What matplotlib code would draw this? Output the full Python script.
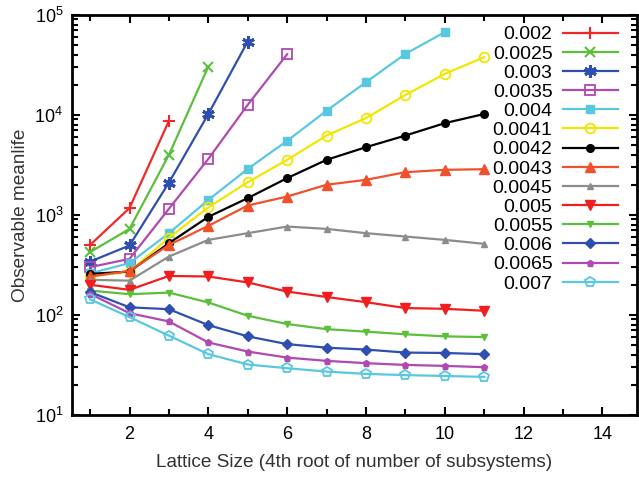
import matplotlib
matplotlib.use("Agg")
import matplotlib.pyplot as plt
from matplotlib.ticker import LogLocator, MultipleLocator, NullFormatter

plt.rcParams['font.family'] = ['Liberation Sans', 'DejaVu Sans']
plt.rcParams['mathtext.default'] = 'regular'

labels = ["0.002", "0.0025", "0.003", "0.0035", "0.004", "0.0041", "0.0042",
          "0.0043", "0.0045", "0.005", "0.0055", "0.006", "0.0065", "0.007"]

v_0002 = [500, 1170, 8700]
v_00025 = [424, 724, 3980, 30400]
v_0003 = [341, 494, 2100, 10200, 54100]
v_00035 = [300, 363, 1150, 3630, 12600, 40400]
v_0004 = [260, 329, 656, 1410, 2880, 5500, 11000, 21200, 40700, 67100]
v_00041 = [242, 271, 590, 1190, 2120, 3550, 6210, 9270, 15800, 25700, 37700]
v_00042 = [257, 271, 521, 955, 1470, 2330, 3550, 4750, 6210, 8260, 10200]
v_00043 = [242, 275, 500, 776, 1240, 1525, 2000, 2240, 2670, 2820, 2860]
v_00045 = [224, 220, 383, 562, 656, 764, 724, 656, 607, 562, 513]
v_0005 = [200, 178, 245, 242, 211, 171, 151, 134, 117, 115, 110]
v_00055 = [175, 161, 167, 133, 98, 81, 72, 68, 64, 61, 60]
v_0006 = [169, 119, 114, 79, 61, 51, 47, 45, 42, 41.6, 40.5]
v_00065 = [162, 104, 86, 53, 43, 37.4, 34.7, 32.9, 31.6, 30.9, 30]
v_0007 = [143, 95, 62, 40.5, 31.9, 29.3, 27.1, 25.7, 25, 24.5, 24]

series = [v_0002, v_00025, v_0003, v_00035, v_0004, v_00041, v_00042,
          v_00043, v_00045, v_0005, v_00055, v_0006, v_00065, v_0007]

styles = [
    dict(color='#f02828', marker='+', ms=9, mew=1.5),
    dict(color='#5cbf3c', marker='x', ms=7, mew=1.5),
    dict(color='#2f4fb0', marker=(6, 2, 0), ms=9, mew=2.2),
    dict(color='#b04ab0', marker='s', ms=7, mfc='none', mew=1.3),
    dict(color='#58c8e0', marker='s', ms=6),
    dict(color='#f2e600', marker='o', ms=7, mfc='none', mew=1.3),
    dict(color='#000000', marker='o', ms=5.5),
    dict(color='#f0502c', marker='^', ms=6.5),
    dict(color='#8c8c8c', marker='^', ms=4.5),
    dict(color='#f01e1e', marker='v', ms=6.5),
    dict(color='#5cbf3c', marker='v', ms=4.5),
    dict(color='#2f4fb0', marker='D', ms=5),
    dict(color='#b04ab0', marker='p', ms=4.5),
    dict(color='#58c8e0', marker='p', ms=7, mfc='none', mew=1.3),
]

fig = plt.figure(figsize=(6.39, 4.78), dpi=100)
ax = fig.add_axes([0.112, 0.132, 0.8845, 0.837])

for lab, vals, st in zip(labels, series, styles):
    xs = list(range(1, len(vals) + 1))
    ax.plot(xs, vals, label=lab, lw=1.6, **st)

ax.set_yscale('log')
ax.set_xlim(0.53, 14.87)
ax.set_ylim(10, 1e5)

ax.xaxis.set_major_locator(MultipleLocator(2))
ax.xaxis.set_minor_locator(MultipleLocator(1))
ax.yaxis.set_major_locator(LogLocator(base=10))
ax.yaxis.set_minor_locator(LogLocator(base=10, subs=range(2, 10)))
ax.yaxis.set_minor_formatter(NullFormatter())

ax.tick_params(which='both', direction='in', top=True, right=True, width=1.5,
               labelsize=13, colors='black')
ax.tick_params(which='major', length=6)
ax.tick_params(which='minor', length=4)
ax.tick_params(axis='x', pad=8)
ax.tick_params(axis='y', pad=6)
ax.set_xticks([2, 4, 6, 8, 10, 12, 14])
for sp in ax.spines.values():
    sp.set_linewidth(2)

ax.set_xlabel('Lattice Size (4th root of number of subsystems)', fontsize=13.7,
              color='#333333', labelpad=8)
ax.set_ylabel('Observable meanlife', fontsize=13.7, color='#333333', labelpad=4)

leg = ax.legend(loc='upper right', bbox_to_anchor=(0.98, 0.992), frameon=False,
                markerfirst=False, fontsize=14, labelspacing=0.08,
                handlelength=2.8, handletextpad=0.55, borderaxespad=0)

fig.savefig('out.png', dpi=100)
